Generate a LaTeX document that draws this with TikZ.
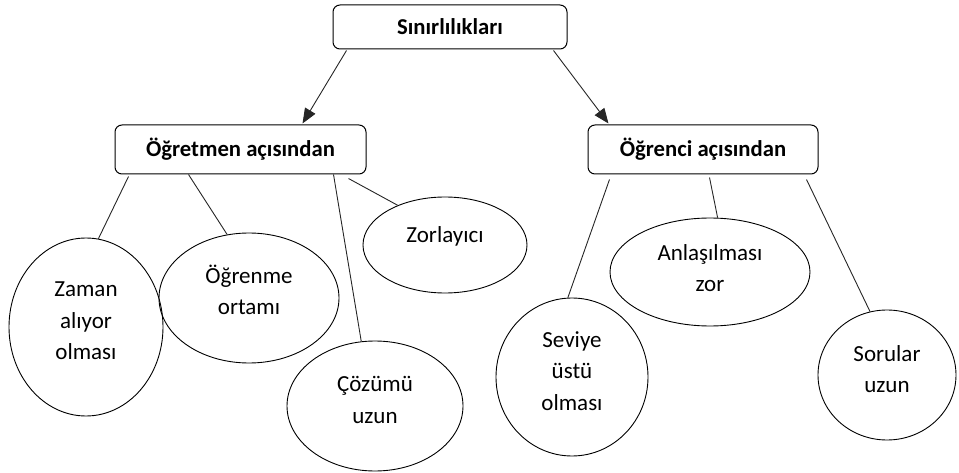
\documentclass[tikz,border=0pt]{standalone}
\usepackage{fontspec}
\setmainfont{Carlito}
\usetikzlibrary{shapes.geometric,arrows.meta,calc}
\begin{document}
\begin{tikzpicture}[x=1pt,y=-1pt,
  box/.style={draw=black,line width=1pt,rounded corners=7pt,inner sep=0pt,
    font=\fontsize{22.7}{26}\selectfont\bfseries},
  ell/.style={draw=black,line width=0.9pt,ellipse,inner sep=0pt},
  etxt/.style={align=center,inner sep=0pt,font=\fontsize{23}{31.7}\selectfont},
  conn/.style={draw=black!85,line width=0.9pt},
  arr/.style={conn,-{Triangle[length=15pt,width=12pt]}}]
\useasboundingbox (0,0) rectangle (959,473);
\node[box,minimum width=234pt,minimum height=44pt] (top) at (450,27) {Sınırlılıkları};
\node[box,minimum width=251pt,minimum height=49pt] (ob) at (240.5,149.5) {Öğretmen açısından};
\node[box,minimum width=230pt,minimum height=49pt] (og) at (703,149.5) {Öğrenci açısından};
% ellipses
\node[ell,minimum width=154pt,minimum height=178pt] (zaman) at (86,327) {};
\node[ell,minimum width=180pt,minimum height=130pt] (ogr) at (249,298) {};
\node[ell,minimum width=164pt,minimum height=96pt] (zor) at (445,245) {};
\node[ell,minimum width=176pt,minimum height=130pt] (coz) at (375,406) {};
\node[ell,minimum width=152pt,minimum height=158pt] (sev) at (572,377) {};
\node[ell,minimum width=200pt,minimum height=108pt] (anl) at (710,272) {};
\node[ell,minimum width=138pt,minimum height=130pt] (sor) at (887,375) {};
% texts
\node[etxt] (tzaman) at ([yshift=6pt]zaman.center) {Zaman\\alıyor\\olması};
\node[etxt] (togr) at ([yshift=8pt]ogr.center) {Öğrenme\\ortamı};
\node[etxt] (tzor) at ([yshift=9pt]zor.center) {Zorlayıcı};
\node[etxt] (tcoz) at ([yshift=6pt]coz.center) {Çözümü\\uzun};
\node[etxt] (tsev) at ([yshift=6pt]sev.center) {Seviye\\üstü\\olması};
\node[etxt] (tanl) at ([yshift=4pt]anl.center) {Anlaşılması\\zor};
\node[etxt] (tsor) at ([yshift=6pt]sor.center) {Sorular\\uzun};
% arrows
\draw[arr] ([xshift=14pt,yshift=-1pt]top.south west) -- ([xshift=188pt,yshift=1pt]ob.north west);
\draw[arr] ([xshift=-14pt,yshift=-1pt]top.south east) -- ([xshift=21pt,yshift=1pt]og.north west);
% connectors
\draw[conn] ([xshift=14pt,yshift=-2pt]ob.south west) -- (zaman.82);
\draw[conn] ([xshift=74pt,yshift=0pt]ob.south west) -- (ogr.109);
\draw[conn] ([xshift=219pt,yshift=0pt]ob.south west) -- (coz.102);
\draw[conn] ([xshift=-18pt,yshift=-4pt]ob.south east) -- (zor.140);
\draw[conn] ([xshift=22pt,yshift=-5pt]og.south west) -- (sev.93);
\draw[conn] ([xshift=122pt,yshift=-3pt]og.south west) -- (anl.82);
\draw[conn] ([xshift=219pt,yshift=-5pt]og.south west) -- (sor.105);
\end{tikzpicture}
\end{document}
